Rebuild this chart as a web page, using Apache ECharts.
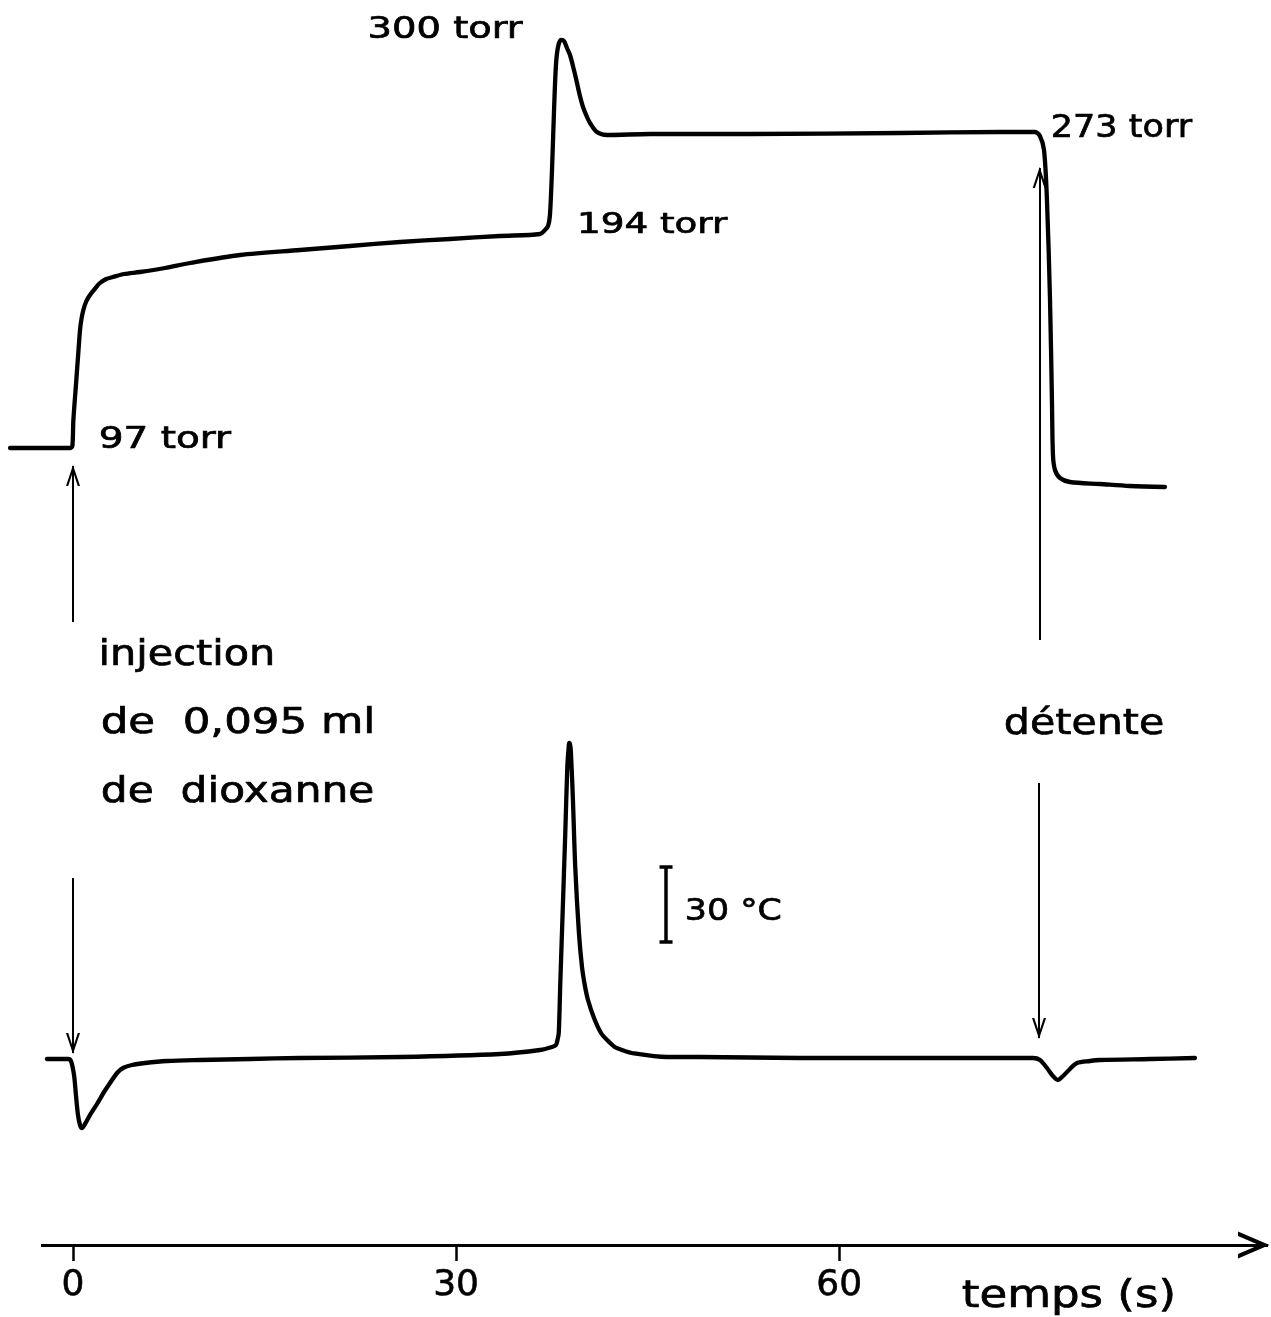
<!DOCTYPE html>
<html>
<head>
<meta charset="utf-8">
<script src="https://cdn.jsdelivr.net/npm/echarts@6/dist/echarts.min.js"></script>
<style>
  html, body { margin: 0; padding: 0; background: #fff; }
  #chart { width: 1271px; height: 1317px; }
</style>
</head>
<body>
<div id="chart"></div>
<script>
// Pressure recorder trace: time (s) and pen deflection above the initial level (mm)
const pressureTime = [-4.93, -1.0, -0.2, -0.05, 0.03, 0.26, 0.46, 0.55, 0.65, 0.81, 1.05, 1.33, 1.7, 2.11, 2.6, 3.13, 4.0, 5.25, 7.2, 9.16, 13.08, 17.78, 21.69, 25.61, 29.52, 33.44, 36.57, 36.96, 37.2, 37.35, 37.51, 37.67, 37.82, 37.98, 38.21, 38.45, 38.68, 38.92, 39.23, 39.47, 39.7, 39.94, 40.25, 40.49, 41.03, 41.82, 45.2, 53.0, 64.8, 72.6, 75.33, 75.72, 76.04, 76.27, 76.51, 76.66, 76.74, 76.9, 77.29, 78.07, 80.42, 82.77, 85.51];
const pressureDeflection = [0, 0, 0, 0.2, 2.8, 6.8, 10.3, 11.8, 12.8, 13.8, 14.7, 15.3, 15.9, 16.5, 16.9, 17.1, 17.4, 17.6, 18.0, 18.5, 19.3, 19.8, 20.2, 20.6, 20.9, 21.2, 21.4, 21.8, 22.2, 23.3, 27.8, 33.8, 38.3, 40.1, 40.8, 40.7, 40.0, 39.3, 37.8, 36.5, 35.2, 34.1, 33.1, 32.5, 31.6, 31.3, 31.4, 31.4, 31.5, 31.6, 31.6, 31.2, 29.8, 24.8, 14.8, 4.8, -0.7, -2.2, -3.0, -3.4, -3.6, -3.8, -3.9];

// Thermocouple trace: time (s) and temperature change (°C)
const temperatureTime = [-2.04, -0.39, -0.16, 0.08, 0.23, 0.39, 0.55, 0.7, 0.94, 1.33, 1.88, 2.43, 2.9, 3.45, 3.92, 4.62, 5.64, 7.36, 9.95, 13.86, 17.78, 25.61, 33.44, 36.57, 37.51, 37.82, 37.94, 38.04, 38.16, 38.29, 38.55, 38.71, 38.8, 38.86, 38.93, 38.99, 39.15, 39.33, 39.62, 39.86, 40.09, 40.33, 40.8, 41.35, 41.82, 42.42, 42.99, 43.75, 46.51, 49.1, 56.93, 64.76, 72.59, 75.18, 75.72, 76.27, 76.74, 77.13, 77.53, 78.07, 78.62, 79.64, 80.42, 84.34, 87.86];
const temperatureRise = [0, 0, -0.8, -6.4, -14.4, -22.4, -26.4, -27.6, -26.0, -22.4, -18.0, -13.2, -9.6, -5.6, -3.6, -2.4, -1.6, -0.8, -0.4, 0, 0.4, 0.8, 2.0, 3.6, 4.8, 5.6, 7.6, 10.4, 30.4, 50.4, 90.4, 116.8, 123.6, 126.4, 125.6, 122.8, 103.6, 76.8, 50.4, 36.8, 29.2, 23.6, 16.4, 10.4, 7.6, 4.8, 3.6, 2.4, 0.8, 0.8, 0.4, 0.4, 0.4, 0.4, -0.4, -3.6, -6.8, -8.4, -6.8, -4.0, -1.6, -0.8, -0.4, 0, 0.4];

// Time axis: ticks (s) and the span of the drawn axis arrow (s)
const timeTicks = [0, 30, 60];
const timeAxisFrom = -2.506;
const timeAxisTo = 93.58;

// Pressure readings written beside the trace (torr): start, before ignition, peak, after
const pressureReadings = [97, 194, 300, 273];

// Events: injection at t = 0, expansion (détente)
const injectionTime = 0;
const expansionTime = 75.7;

// Temperature scale bar (°C)
const scaleBarTime = 46.44;
const scaleBarBase = 46.8;
const scaleBarSpan = 30;

const INK = '#000';
const FONT = '"DejaVu Sans", sans-serif';
const DEFLECTION_MIN = -79.7;   // bottom of the plotting area, where the time axis runs

// Open chevron arrowheads (tip at the symbol centre; the first sub-path only squares the box)
const AXIS_ARROW = 'path://M0,0 L60,0 L60,0 Z M30,28.5 L43.4,60 L39.1,60 L30,39 L20.9,60 L16.6,60 Z';
const NOTE_ARROW = 'path://M0,0 L40,0 L40,0 Z M20,19 L27,40 L24.8,40 L20,25.6 L15.2,40 L13,40 Z';

const zip = (xs, ys) => xs.map((x, i) => [x, ys[i]]);

// Hand-lettering is wide: stretch each text so its ink spans [left, right]
const measureCtx = document.createElement('canvas').getContext('2d');
function letteredText(text, size, left, right, baseline) {
  const font = size + 'px ' + FONT;
  measureCtx.font = font;
  measureCtx.textBaseline = 'middle';
  const m = measureCtx.measureText(text);
  const ink = m.actualBoundingBoxLeft + m.actualBoundingBoxRight;
  const sx = (right - left) / ink;
  const toBaseline = measureCtx.measureText('H').actualBoundingBoxDescent;
  return {
    type: 'text',
    x: left + sx * m.actualBoundingBoxLeft,
    y: baseline - toBaseline,
    scaleX: sx,
    silent: true,
    style: {
      text: text,
      font: font,
      fontSize: size,
      fontFamily: FONT,
      fill: INK,
      textFill: INK,
      stroke: INK,
      textStroke: INK,
      lineWidth: 0.7,
      textStrokeWidth: 0.7,
      align: 'left',
      textAlign: 'left',
      verticalAlign: 'middle',
      textVerticalAlign: 'middle'
    }
  };
}

const torr = v => v + ' torr';

const notes = [
  letteredText(torr(pressureReadings[0]), 30, 100, 232, 448),
  letteredText(torr(pressureReadings[1]), 28, 581, 728, 233),
  letteredText(torr(pressureReadings[2]), 31, 370, 523, 38),
  letteredText(torr(pressureReadings[3]), 32, 1053, 1193, 137),
  letteredText('injection', 36, 102, 272, 665),
  letteredText('de  0,095 ml', 35, 102, 372, 733),
  letteredText('de  dioxanne', 36, 102, 373, 802),
  letteredText('détente', 36, 1005, 1163, 734),
  letteredText(scaleBarSpan + ' °C', 31, 687, 780, 920),
  letteredText('temps (s)', 37, 963, 1173, 1307)
];

const chart = echarts.init(document.getElementById('chart'), null, { renderer: 'canvas' });

chart.setOption({
  backgroundColor: '#fff',
  animation: false,
  grid: { left: 10, right: 3, top: 0, bottom: 72, containLabel: false },
  xAxis: {
    type: 'value',
    position: 'bottom',
    min: -4.9334,
    max: 93.58,
    axisLine: { show: false, onZero: false },
    axisTick: {
      show: true,
      inside: false,
      length: 16,
      customValues: timeTicks,
      lineStyle: { color: INK, width: 2.5 }
    },
    axisLabel: {
      show: true,
      customValues: timeTicks,
      margin: 23,
      color: INK,
      fontSize: 36,
      fontFamily: FONT,
      textBorderColor: INK,
      textBorderWidth: 0.6
    },
    splitLine: { show: false }
  },
  yAxis: [
    { type: 'value', min: DEFLECTION_MIN, max: 44.8, show: false },   // pen deflection (mm)
    { type: 'value', min: -74.4, max: 423.6, show: false }            // temperature change (°C)
  ],
  series: [
    {
      name: 'pression',
      type: 'line',
      xAxisIndex: 0,
      yAxisIndex: 0,
      data: zip(pressureTime, pressureDeflection),
      showSymbol: false,
      symbol: 'none',
      smooth: 0.3,
      clip: false,
      silent: true,
      lineStyle: { color: INK, width: 4.3, cap: 'round', join: 'round' }
    },
    {
      name: 'température',
      type: 'line',
      xAxisIndex: 0,
      yAxisIndex: 1,
      data: zip(temperatureTime, temperatureRise),
      showSymbol: false,
      symbol: 'none',
      smooth: 0.3,
      clip: false,
      silent: true,
      lineStyle: { color: INK, width: 4.3, cap: 'round', join: 'round' }
    },
    {
      // time axis drawn as an arrow
      type: 'lines',
      coordinateSystem: 'cartesian2d',
      xAxisIndex: 0,
      yAxisIndex: 0,
      silent: true,
      clip: false,
      symbol: ['none', AXIS_ARROW],
      symbolSize: 60,
      lineStyle: { color: INK, width: 3, opacity: 1, curveness: 0 },
      data: [
        { coords: [[timeAxisFrom, DEFLECTION_MIN], [timeAxisTo, DEFLECTION_MIN]] }
      ]
    },
    {
      // arrows pointing up to the pressure trace
      type: 'lines',
      coordinateSystem: 'cartesian2d',
      xAxisIndex: 0,
      yAxisIndex: 0,
      silent: true,
      symbol: ['none', NOTE_ARROW],
      symbolSize: 40,
      lineStyle: { color: INK, width: 2, opacity: 1, curveness: 0 },
      data: [
        { coords: [[injectionTime, -17.4], [injectionTime, -1.8]] },
        { coords: [[expansionTime, -19.2], [expansionTime, 28.0]] }
      ]
    },
    {
      // arrows pointing down to the temperature trace
      type: 'lines',
      coordinateSystem: 'cartesian2d',
      xAxisIndex: 0,
      yAxisIndex: 1,
      silent: true,
      symbol: ['none', NOTE_ARROW],
      symbolSize: 40,
      lineStyle: { color: INK, width: 2, opacity: 1, curveness: 0 },
      data: [
        { coords: [[injectionTime, 72.4], [injectionTime, 2.4]] },
        { coords: [[expansionTime - 0.05, 110.4], [expansionTime - 0.05, 8.4]] }
      ]
    },
    {
      // 30 °C scale bar with end caps
      type: 'lines',
      coordinateSystem: 'cartesian2d',
      xAxisIndex: 0,
      yAxisIndex: 1,
      silent: true,
      symbol: 'none',
      lineStyle: { color: INK, width: 3.5, opacity: 1, curveness: 0 },
      data: [
        { coords: [[scaleBarTime, scaleBarBase], [scaleBarTime, scaleBarBase + scaleBarSpan]] },
        { coords: [[scaleBarTime - 0.51, scaleBarBase + scaleBarSpan], [scaleBarTime + 0.51, scaleBarBase + scaleBarSpan]] },
        { coords: [[scaleBarTime - 0.51, scaleBarBase], [scaleBarTime + 0.51, scaleBarBase]] }
      ]
    }
  ],
  graphic: { elements: notes }
});
</script>
</body>
</html>
